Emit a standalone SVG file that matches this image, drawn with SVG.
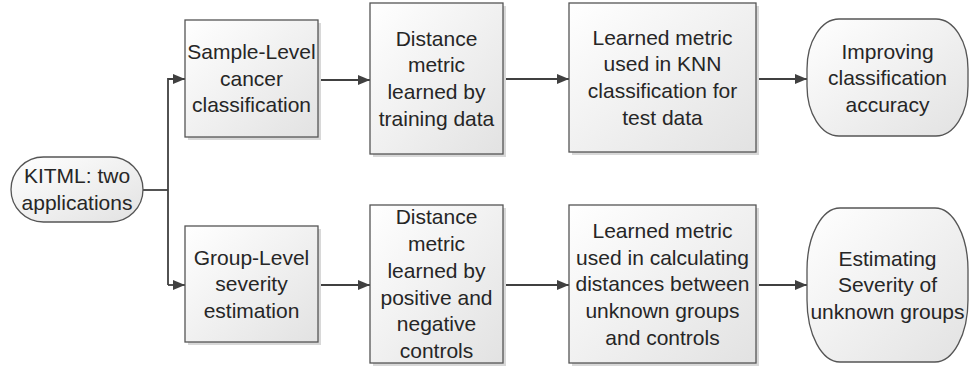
<svg xmlns="http://www.w3.org/2000/svg" width="969" height="367" viewBox="0 0 969 367">
<defs>
<linearGradient id="g" x1="0" y1="0" x2="1" y2="1">
<stop offset="0" stop-color="#ffffff"/>
<stop offset="1" stop-color="#e2e2e2"/>
</linearGradient>
<marker id="ah" viewBox="0 0 12 10" refX="12" refY="5" markerWidth="12" markerHeight="10" markerUnits="userSpaceOnUse" orient="auto">
<path d="M0,0 L12,5 L0,10 Z" fill="#404040"/>
</marker>
<style>
.box{fill:url(#g);stroke:#555;stroke-width:1.3}
.sh{fill:#d8d8d8;stroke:none}
.t{font-family:"Liberation Sans",Arial,sans-serif;font-size:21px;fill:#262626;text-anchor:middle}
.c{fill:none;stroke:#404040;stroke-width:1.8}
</style>
</defs>
<rect width="969" height="367" fill="#fff"/>
<g id="connectors">
<path class="c" d="M143,190 H168"/>
<path class="c" d="M168,285 V79 H185" marker-end="url(#ah)"/>
<path class="c" d="M168,285 H185" marker-end="url(#ah)"/>
<path class="c" d="M318,80 H370" marker-end="url(#ah)"/>
<path class="c" d="M503,79 H569" marker-end="url(#ah)"/>
<path class="c" d="M756,79 H807" marker-end="url(#ah)"/>
<path class="c" d="M318,285 H370" marker-end="url(#ah)"/>
<path class="c" d="M503,285 H569" marker-end="url(#ah)"/>
<path class="c" d="M756,285 H807" marker-end="url(#ah)"/>
</g>
<g id="kitml">
<rect class="box" x="11" y="157" width="132" height="65" rx="32.5" ry="32.5"/>
<text class="t"><tspan x="77" y="183">KITML: two</tspan><tspan x="77" y="210">applications</tspan></text>
</g>
<g id="sample">
<rect class="sh" x="188" y="23" width="133" height="117"/>
<rect class="box" x="185" y="20" width="133" height="117"/>
<text class="t"><tspan x="251.5" y="59">Sample-Level</tspan><tspan x="251.5" y="85.5">cancer</tspan><tspan x="251.5" y="112">classification</tspan></text>
</g>
<g id="dist1">
<rect class="sh" x="373" y="6" width="133" height="151"/>
<rect class="box" x="370" y="3" width="133" height="151"/>
<text class="t"><tspan x="436.5" y="45.5">Distance</tspan><tspan x="436.5" y="72">metric</tspan><tspan x="436.5" y="99">learned by</tspan><tspan x="436.5" y="125.5">training data</tspan></text>
</g>
<g id="knn">
<rect class="sh" x="572" y="6" width="187" height="149"/>
<rect class="box" x="569" y="3" width="187" height="149"/>
<text class="t"><tspan x="662.5" y="44.5">Learned metric</tspan><tspan x="662.5" y="71">used in KNN</tspan><tspan x="662.5" y="98">classification for</tspan><tspan x="662.5" y="124.5">test data</tspan></text>
</g>
<g id="improving">
<rect class="box" x="807" y="19" width="161" height="117" rx="32" ry="50"/>
<text class="t"><tspan x="887.5" y="58.5">Improving</tspan><tspan x="887.5" y="85">classification</tspan><tspan x="887.5" y="111.5">accuracy</tspan></text>
</g>
<g id="group">
<rect class="sh" x="188" y="229" width="133" height="116"/>
<rect class="box" x="185" y="226" width="133" height="116"/>
<text class="t"><tspan x="251.5" y="264.5">Group-Level</tspan><tspan x="251.5" y="291">severity</tspan><tspan x="251.5" y="317.5">estimation</tspan></text>
</g>
<g id="dist2">
<rect class="sh" x="373" y="208" width="133" height="158"/>
<rect class="box" x="370" y="205" width="133" height="158"/>
<text class="t"><tspan x="436.5" y="224">Distance</tspan><tspan x="436.5" y="251">metric</tspan><tspan x="436.5" y="277.5">learned by</tspan><tspan x="436.5" y="304.5">positive and</tspan><tspan x="436.5" y="331">negative</tspan><tspan x="436.5" y="357.5">controls</tspan></text>
</g>
<g id="calc">
<rect class="sh" x="572" y="208" width="187" height="158"/>
<rect class="box" x="569" y="205" width="187" height="158"/>
<text class="t"><tspan x="662.5" y="237.5">Learned metric</tspan><tspan x="662.5" y="264.5">used in calculating</tspan><tspan x="662.5" y="291">distances between</tspan><tspan x="662.5" y="317.5">unknown groups</tspan><tspan x="662.5" y="344.5">and controls</tspan></text>
</g>
<g id="estimating">
<rect class="box" x="807" y="208" width="161" height="154" rx="33" ry="62"/>
<text class="t"><tspan x="887.5" y="265.5">Estimating</tspan><tspan x="887.5" y="292">Severity of</tspan><tspan x="887.5" y="318.5">unknown groups</tspan></text>
</g>
</svg>
